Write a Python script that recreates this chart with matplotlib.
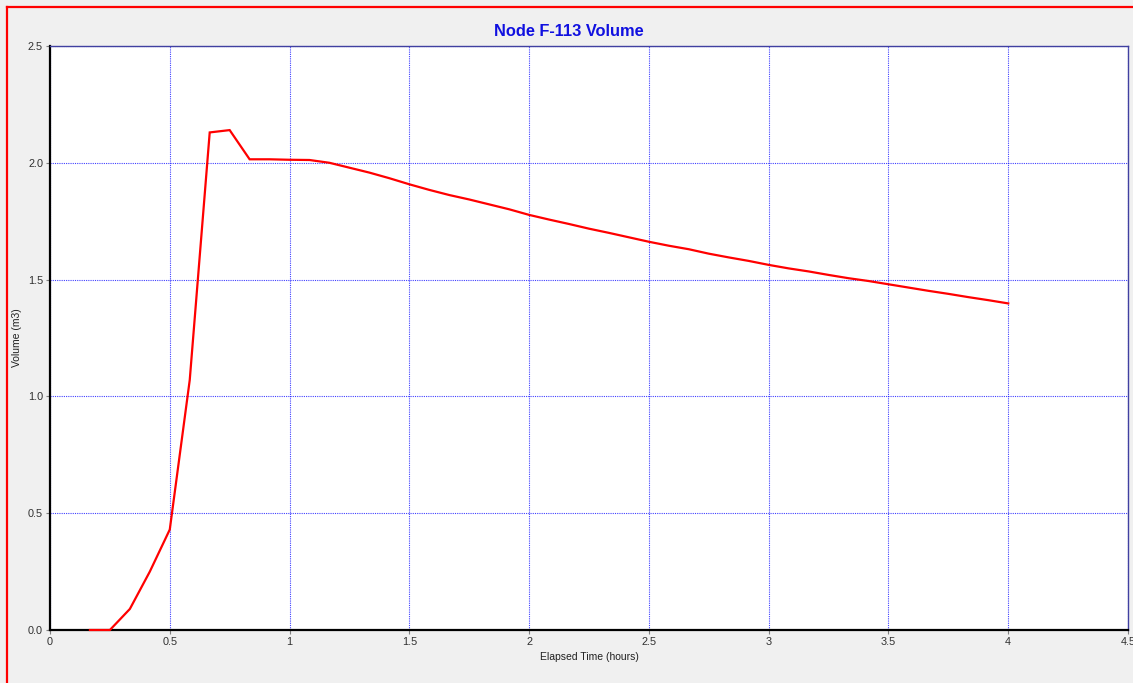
import matplotlib
matplotlib.use("Agg")
import matplotlib.pyplot as plt
from matplotlib.lines import Line2D

plt.rcParams['font.family'] = ['Liberation Sans', 'DejaVu Sans']

# Node F-113 stored volume, 5-minute report steps
hours = [0.1667, 0.25, 0.3333, 0.4167, 0.5, 0.5833, 0.6667, 0.75, 0.8333,
         0.9167, 1.0, 1.0833, 1.1667, 1.25, 1.3333, 1.4167, 1.5, 1.5833,
         1.6667, 1.75, 1.8333, 1.9167, 2.0, 2.0833, 2.1667, 2.25, 2.3333,
         2.4167, 2.5, 2.5833, 2.6667, 2.75, 2.8333, 2.9167, 3.0, 3.0833,
         3.1667, 3.25, 3.3333, 3.4167, 3.5, 3.5833, 3.6667, 3.75, 3.8333,
         3.9167, 4.0]
volume = [0.0, 0.0, 0.09, 0.25, 0.43, 1.07, 2.13, 2.14, 2.015,
          2.015, 2.013, 2.012, 2.0, 1.979, 1.958, 1.934, 1.908, 1.884,
          1.862, 1.843, 1.822, 1.801, 1.777, 1.757, 1.738, 1.718, 1.700,
          1.681, 1.662, 1.645, 1.630, 1.611, 1.595, 1.580, 1.563, 1.548,
          1.535, 1.520, 1.506, 1.494, 1.480, 1.466, 1.452, 1.439, 1.425,
          1.412, 1.398]

x_ticks = [0, 0.5, 1, 1.5, 2, 2.5, 3, 3.5, 4, 4.5]
x_tick_labels = ["0", "0.5", "1", "1.5", "2", "2.5", "3", "3.5", "4", "4.5"]
y_ticks = [0.0, 0.5, 1.0, 1.5, 2.0, 2.5]
y_tick_labels = ["0.0", "0.5", "1.0", "1.5", "2.0", "2.5"]

W, H = 1133, 683
fig = plt.figure(figsize=(W / 100, H / 100), dpi=100, facecolor='#F0F0F0')
ax = fig.add_axes([50 / W, 1 - 630 / H, (1128 - 50) / W, (630 - 46) / H])
ax.set_facecolor('white')

ax.plot(hours, volume, color='#FF0000', lw=1.6, solid_joinstyle='miter',
        zorder=5, clip_on=False)

ax.set_xlim(0, 4.5)
ax.set_ylim(0, 2.5)
ax.set_xticks(x_ticks)
ax.set_xticklabels(x_tick_labels)
ax.set_yticks(y_ticks)
ax.set_yticklabels(y_tick_labels)
ax.grid(True, color='#0000FF', linestyle=(0, (1, 1)), lw=0.8, alpha=0.75)
ax.tick_params(axis='both', direction='out', length=3, width=0.8, color='#808080',
               labelsize=7.8, labelcolor='#303030', pad=2)

for side in ('left', 'bottom'):
    ax.spines[side].set_color('#000000')
    ax.spines[side].set_linewidth(1.6)
for side in ('top', 'right'):
    ax.spines[side].set_color('#4040A0')
    ax.spines[side].set_linewidth(1.0)

ax.set_xlabel('Elapsed Time (hours)', fontsize=7.5, color='#202020', labelpad=4)
ax.set_ylabel('Volume (m3)', fontsize=7.5, color='#202020', labelpad=14)
ax.yaxis.set_label_coords(-28 / (1128 - 50), 0.5)

fig.text(569 / W, 1 - 31 / H, 'Node F-113 Volume', ha='center', va='center',
         fontsize=11.8, fontweight='bold', color='#1010E0')

# red window border along the top and left edges
fig.add_artist(Line2D([7 / W, 1.0], [1 - 7 / H, 1 - 7 / H], transform=fig.transFigure,
                      color='#FF0000', lw=1.6))
fig.add_artist(Line2D([7 / W, 7 / W], [0.0, 1 - 7 / H], transform=fig.transFigure,
                      color='#FF0000', lw=1.6))

fig.savefig('out.png', dpi=100, facecolor=fig.get_facecolor())
